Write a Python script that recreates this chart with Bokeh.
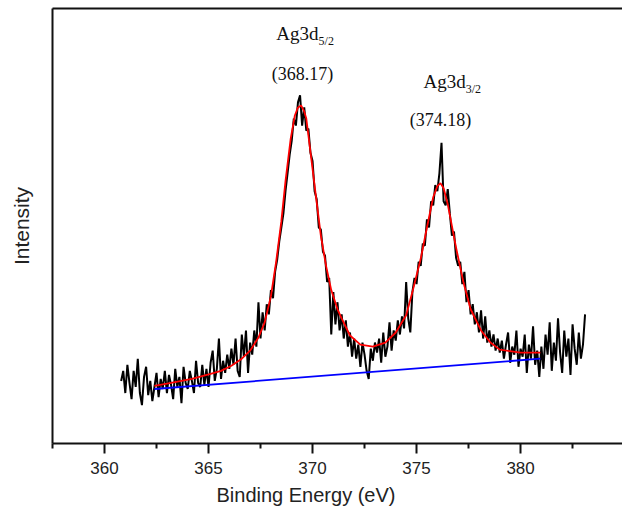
import numpy as np
from bokeh.plotting import figure
from bokeh.models import Range1d, LinearAxis, FixedTicker, Label, Title
from bokeh.embed import file_html
from bokeh.resources import INLINE

# ---- data ----
energy_start = 360.8
energy_step = 0.1
intensity = [
    62, 72,
    50, 78, 60, 44, 72, 56, 84, 50, 38, 66,
    76, 48, 62, 42, 56, 70, 46, 64, 54, 72,
    50, 68, 58, 44, 74, 56, 66, 40, 76, 60,
    54, 72, 62, 50, 82, 60, 56, 78, 58, 74,
    56, 80, 92, 62, 74, 104, 64, 82, 70, 88,
    74, 94, 78, 104, 72, 66, 108, 86, 112, 70,
    100, 88, 112, 96, 140, 104, 130, 112, 138, 128,
    152, 144, 170, 182, 200, 214, 228, 250, 268, 286,
    300, 322, 315, 338, 345, 315, 333, 310, 312, 288,
    280, 250, 242, 214, 212, 190, 186, 160, 164, 108,
    150, 118, 140, 112, 128, 104, 122, 96, 110, 86,
    104, 84, 98, 76, 100, 88, 72, 64, 94, 82,
    100, 90, 104, 80, 110, 86, 96, 120, 92, 112,
    102, 122, 108, 126, 114, 160, 124, 110, 150, 164,
    158, 180, 176, 198, 196, 222, 214, 240, 236, 256,
    250, 268, 298, 240, 236, 252, 228, 206, 210, 184,
    176, 180, 158, 170, 140, 152, 128, 138, 118, 130,
    110, 132, 104, 126, 100, 112, 96, 108, 92, 104,
    90, 102, 84, 98, 110, 80, 96, 88, 112, 76,
    94, 86, 108, 70, 98, 84, 116, 78, 92, 66,
    96, 74, 108, 88, 120, 72, 100, 82, 124, 90,
    70, 112, 86, 104, 68, 118, 94, 78, 110, 84,
    98, 128,
]
energy = np.round(energy_start + energy_step * np.arange(len(intensity)), 2)

fit_energy = [362.4, 363.2, 364.2, 365.1, 365.6, 366.1, 366.6, 367.0, 367.4, 367.7,
              368.0, 368.25, 368.5, 368.7, 368.95, 369.15, 369.3, 369.45, 369.6, 369.7,
              369.9, 370.15, 370.4, 370.65, 370.9, 371.2, 371.4, 371.8, 372.3, 372.9,
              373.5, 374.0, 374.5, 374.8, 375.2, 375.5, 375.8, 376.0, 376.15, 376.3,
              376.5, 376.9, 377.25, 377.6, 378.1, 378.55, 379.0, 380.0, 380.95]
fit_intensity = [57, 60, 64, 69, 72, 77, 84, 92, 105, 120,
                 146, 180, 220, 260, 302, 325, 333, 335, 329, 322,
                 289, 247, 206, 176, 152, 133, 124, 107, 98, 96,
                 100, 110, 127, 150, 183, 214, 244, 255, 258, 253,
                 237, 194, 160, 133, 112, 100, 93, 90, 90]

baseline_energy = [362.4, 380.95]
baseline_intensity = [54, 84]

x_ticks = [360, 365, 370, 375, 380]
x_minor_ticks = [357.5, 362.5, 367.5, 372.5, 377.5, 382.5]

# ---- figure ----
p = figure(width=622, height=513,
           x_range=Range1d(357.5, 384.9), y_range=Range1d(0, 431),
           output_backend="svg", toolbar_location=None,
           min_border_left=52, min_border_right=0,
           min_border_top=8, min_border_bottom=70,
           background_fill_color="white", border_fill_color="white")
p.grid.visible = False
p.outline_line_color = None

p.line(energy, intensity, line_color="black", line_width=2)
p.line(fit_energy, fit_intensity, line_color="#ff0000", line_width=1.8)
p.line(baseline_energy, baseline_intensity, line_color="#0000ff", line_width=1.8)

# bottom axis
xa = p.xaxis[0]
xa.ticker = FixedTicker(ticks=x_ticks, minor_ticks=x_minor_ticks)
xa.axis_line_width = 2
xa.axis_line_color = "#111111"
xa.major_tick_line_width = 2
xa.major_tick_line_color = "#111111"
xa.minor_tick_line_width = 2
xa.minor_tick_line_color = "#111111"
xa.major_tick_out = 10
xa.major_tick_in = 0
xa.minor_tick_out = 5
xa.minor_tick_in = 0
xa.major_label_standoff = 8
xa.major_label_text_font = "Liberation Sans"
xa.major_label_text_font_size = "17px"
xa.major_label_text_color = "#222222"

# left axis
ya = p.yaxis[0]
ya.ticker = FixedTicker(ticks=[])
ya.axis_line_width = 2
ya.axis_line_color = "#111111"
ya.major_tick_out = 0
ya.minor_tick_out = 0
ya.major_tick_in = 0
ya.minor_tick_in = 0
ya.axis_label = "Intensity"
ya.axis_label_text_font = "Liberation Sans"
ya.axis_label_text_font_size = "21px"
ya.axis_label_text_font_style = "normal"
ya.axis_label_text_color = "#222222"
ya.axis_label_standoff = 20

# top border as an axis line only
top = LinearAxis(ticker=FixedTicker(ticks=[]), axis_line_width=2,
                 axis_line_color="#111111",
                 major_tick_out=0, major_tick_in=0, minor_tick_out=0, minor_tick_in=0,
                 major_label_standoff=0)
p.add_layout(top, "above")

# x-axis title
p.add_layout(Title(text="Binding Energy (eV)", align="left", offset=164,
                   text_font="Liberation Sans", text_font_size="20px",
                   text_font_style="normal", text_color="#222222", standoff=10,
                   vertical_align="bottom"),
             "below")

# peak annotations
serif = "Liberation Serif"
p.add_layout(Label(x=370.29, y=396, text="Ag3d", text_align="right",
                   text_font=serif, text_font_size="19px", text_color="#111111"))
p.add_layout(Label(x=370.29, y=392, text="5/2", text_align="left",
                   text_font=serif, text_font_size="12px", text_color="#111111"))
p.add_layout(Label(x=369.52, y=356, text="(368.17)", text_align="center",
                   text_font=serif, text_font_size="18px", text_color="#111111"))
p.add_layout(Label(x=377.36, y=348, text="Ag3d", text_align="right",
                   text_font=serif, text_font_size="19px", text_color="#111111"))
p.add_layout(Label(x=377.36, y=344, text="3/2", text_align="left",
                   text_font=serif, text_font_size="12px", text_color="#111111"))
p.add_layout(Label(x=376.15, y=311, text="(374.18)", text_align="center",
                   text_font=serif, text_font_size="18px", text_color="#111111"))

open("out.html", "w").write(file_html(p, INLINE))
